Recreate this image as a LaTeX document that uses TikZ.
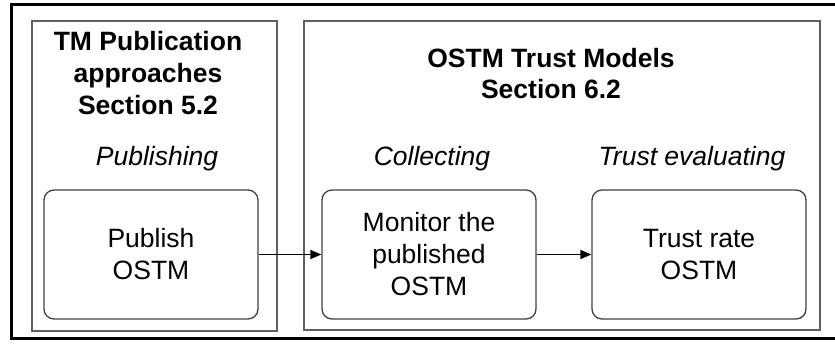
\documentclass[tikz,border=0pt]{standalone}
\usepackage{fontspec}
\setmainfont{Liberation Sans}
\usetikzlibrary{arrows.meta}
\definecolor{groupgray}{RGB}{96,96,96}
\definecolor{stepgray}{RGB}{64,64,64}
\begin{document}
\begin{tikzpicture}[x=1pt,y=-1pt,
  outerframe/.style={draw=black,line width=3.2pt},
  groupbox/.style={draw=groupgray,line width=1.3pt},
  stepbox/.style={draw=stepgray,line width=1.3pt,rounded corners=10pt,
    minimum width=214pt,minimum height=129pt,inner sep=0pt,align=center,
    font=\fontsize{26.5}{32}\selectfont},
  titletext/.style={align=center,inner sep=0pt,anchor=base,
    font=\fontsize{26.5}{32}\selectfont\bfseries},
  phasetext/.style={inner sep=0pt,anchor=base,
    font=\fontsize{26.5}{32}\selectfont\itshape},
  flow/.style={draw=black,line width=1.3pt,-{Triangle[length=11pt,width=9pt]}}]
\useasboundingbox (0,0) rectangle (835,345);
\draw[outerframe] (11.5,4.5) rectangle (850,338.5);
\draw[groupbox] (32,21) rectangle (277,331);
\draw[groupbox] (304,21) rectangle (820,330);
\node[titletext] (t1) at (148,114) {TM Publication\\approaches\\Section 5.2};
\node[titletext] (t2) at (551,99) {OSTM Trust Models\\Section 6.2};
\node[phasetext] (p1) at (157,165) {Publishing};
\node[phasetext] (p2) at (432,165) {Collecting};
\node[phasetext] (p3) at (692,165) {Trust evaluating};
\node[stepbox] (pub) at (151,254.5) {Publish\\OSTM};
\node[stepbox] (mon) at (429,254.5) {Monitor the\\published\\OSTM};
\node[stepbox] (rate) at (699,254.5) {Trust rate\\OSTM};
\draw[flow] (pub) -- (mon);
\draw[flow] (mon) -- (rate);
\end{tikzpicture}
\end{document}
